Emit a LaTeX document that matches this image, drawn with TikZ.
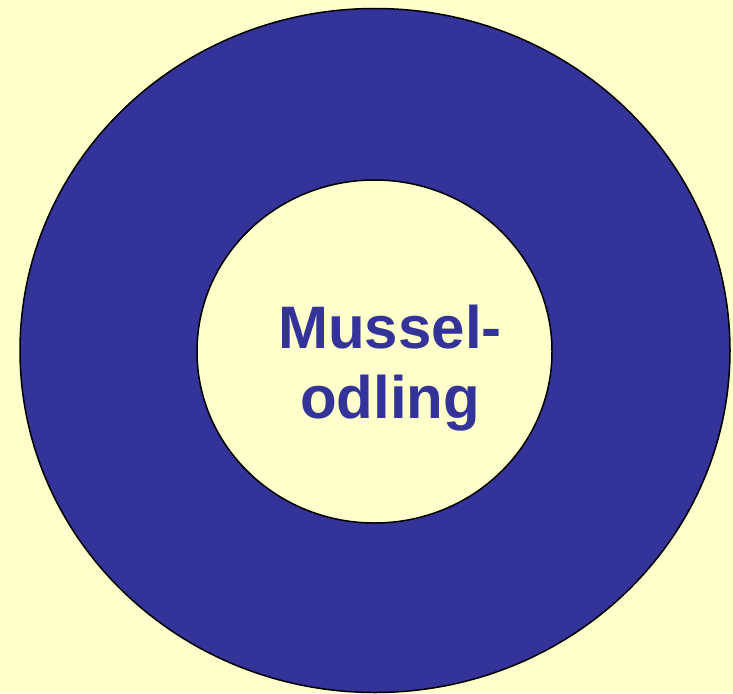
\documentclass[tikz,border=0pt]{standalone}
\usepackage{fontspec}
\setmainfont{Liberation Sans}
\definecolor{bgyellow}{HTML}{FFFFCC}
\definecolor{ringblue}{HTML}{333399}
\begin{document}
\begin{tikzpicture}[x=1pt, y=-1pt]
        % Background
        \fill[bgyellow] (0,0) rectangle (733,693);
        \useasboundingbox (0,0) rectangle (733,693);

        % Outer ring
        \draw[fill=ringblue, line width=1.5pt] (375,350.5) ellipse [x radius=355, y radius=342];
        % Inner disc
        \draw[fill=bgyellow, line width=1.5pt] (374.5,351.5) ellipse [x radius=177.5, y radius=171.5];

        % Label
        \node (top) at (390,348) [anchor=base, inner sep=0, text=ringblue, font=\bfseries\fontsize{60}{70}\selectfont] {Mussel-};
        \node (bottom) at (390,418) [anchor=base, inner sep=0, text=ringblue, font=\bfseries\fontsize{60}{70}\selectfont] {odling};
\end{tikzpicture}
\end{document}
